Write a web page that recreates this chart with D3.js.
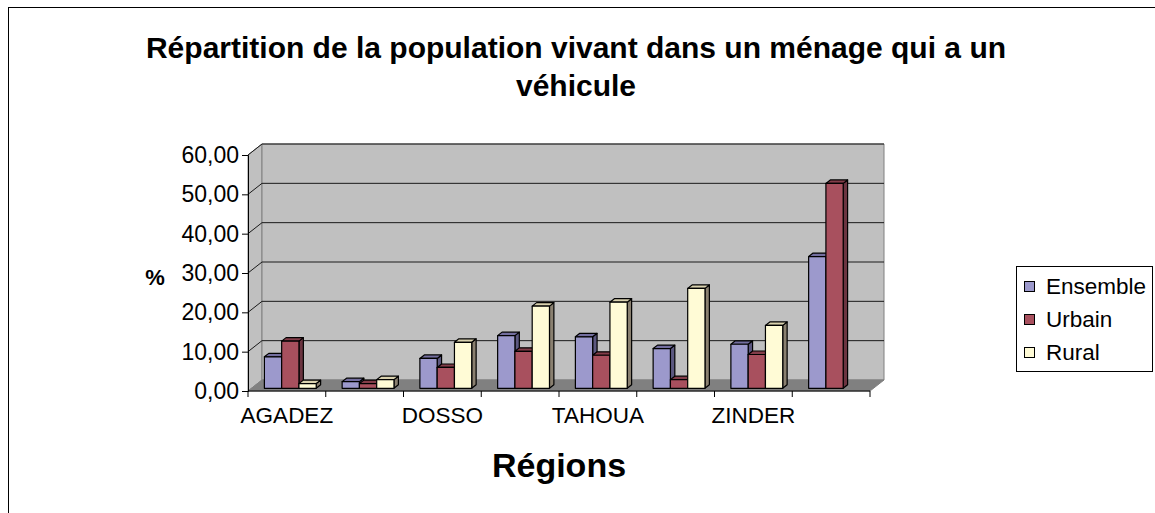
<!DOCTYPE html>
<html><head><meta charset="utf-8">
<script src="https://cdn.jsdelivr.net/npm/d3@7"></script>
<style>body{margin:0;background:#fff}svg{display:block;font-family:"Liberation Sans",Arial,sans-serif}</style>
</head><body><svg id="c" width="1155" height="513"></svg>
<script>
const categories = ["AGADEZ","DIFFA","DOSSO","MARADI","TAHOUA","TILLABERI","ZINDER","NIAMEY"];
const shownLabels = ["AGADEZ","DOSSO","TAHOUA","ZINDER"];
const seriesNames = ["Ensemble","Urbain","Rural"];
const ensemble = [8.0, 1.7, 7.6, 13.4, 13.1, 10.1, 11.2, 33.5];
const urbain   = [12.0, 1.2, 5.3, 9.4, 8.4, 2.2, 8.6, 52.1];
const rural    = [1.2, 2.2, 11.7, 20.9, 21.9, 25.4, 16.0, null];
const yTicks = [0,10,20,30,40,50,60];
const titleLines = ["Répartition de la population vivant dans un ménage qui a un","véhicule"];

const values = [ensemble, urbain, rural];
const colors = {
  Ensemble:{front:"#9c99cc", top:"#736e9f", side:"#5c5880"},
  Urbain:{front:"#a8505e", top:"#833d49", side:"#6b3440"},
  Rural:{front:"#fffbd6", top:"#d9d1ae", side:"#8a8070"}
};

const svg = d3.select("#c");
svg.append("rect").attr("x",8.5).attr("y",7.5).attr("width",1170).attr("height",530)
  .attr("fill","#fff").attr("stroke","#000").attr("stroke-width",1);

const L=248, R=870, depth=[14,-11];
const x0 = d3.scaleBand().domain(categories).range([L,R]).padding(0);
const x1 = d3.scaleBand().domain(seriesNames).range([0,x0.bandwidth()]).paddingInner(0).paddingOuter(0.75);
const y = d3.scaleLinear().domain([0,60]).range([391,155]);
const P = (x,yy,z)=>[x+z*depth[0], yy+z*depth[1]];
const poly = pts => pts.map(p=>p.join(",")).join(" ");

const y0=y(0), y60=y(60);
svg.append("polygon").attr("points",poly([P(L,y60,0),P(L,y60,1),P(L,y0,1),P(L,y0,0)]))
  .attr("fill","#c0c0c0").attr("stroke","#808080");
svg.append("polygon").attr("points",poly([P(L,y60,1),P(R,y60,1),P(R,y0,1),P(L,y0,1)]))
  .attr("fill","#c0c0c0").attr("stroke","#808080");
svg.append("polygon").attr("points",poly([P(L,y0,0),P(R,y0,0),P(R,y0,1),P(L,y0,1)]))
  .attr("fill","#808080").attr("stroke","#808080");
yTicks.filter(t=>t>0).forEach(t=>{
  const a=P(L,y(t),0), b=P(L,y(t),1), c=P(R,y(t),1);
  svg.append("polyline").attr("points",poly([a,b,c])).attr("fill","none")
    .attr("stroke","#1a1a1a").attr("stroke-width",1);
});

const bz0=0.245, bz1=0.56;
categories.forEach((cat,i)=>{
  seriesNames.forEach((s,j)=>{
    const v=values[j][i];
    if(v==null) return;
    const xa=x0(cat)+x1(s), xb=xa+x1.bandwidth();
    const yt=y(v), yb=y(0);
    const c=colors[s];
    const g=svg.append("g").attr("stroke","#000").attr("stroke-width",1.2).attr("stroke-linejoin","round");
    g.append("polygon").attr("points",poly([P(xb,yt,bz0),P(xb,yt,bz1),P(xb,yb,bz1),P(xb,yb,bz0)])).attr("fill",c.side);
    g.append("polygon").attr("points",poly([P(xa,yt,bz0),P(xa,yt,bz1),P(xb,yt,bz1),P(xb,yt,bz0)])).attr("fill",c.top);
    g.append("polygon").attr("points",poly([P(xa,yt,bz0),P(xb,yt,bz0),P(xb,yb,bz0),P(xa,yb,bz0)])).attr("fill",c.front);
  });
});

const yAxis = d3.axisLeft(y).tickValues(yTicks).tickSize(6).tickPadding(3)
  .tickFormat(d=>d3.format(".2f")(d).replace(".",","));
const ga = svg.append("g").attr("transform",`translate(${L},0)`).call(yAxis);
ga.select(".domain").attr("stroke","#000");
ga.selectAll(".tick line").attr("stroke","#000");
ga.selectAll("text").attr("font-size",23).attr("fill","#000").attr("font-family","Liberation Sans, Arial");

svg.append("line").attr("x1",L).attr("x2",R).attr("y1",y0).attr("y2",y0).attr("stroke","#000");
const bounds = categories.map(c=>x0(c)).concat([R]);
svg.selectAll(".xt").data(bounds).join("line").attr("x1",d=>d).attr("x2",d=>d)
  .attr("y1",y0).attr("y2",y0+6).attr("stroke","#000");
svg.selectAll(".xl").data(categories.filter(c=>shownLabels.includes(c))).join("text")
  .attr("x",d=>x0(d)+x0.bandwidth()/2).attr("y",423).attr("text-anchor","middle")
  .attr("font-size",22.5).text(d=>d);

svg.selectAll(".ti").data(titleLines).join("text")
  .attr("x",576).attr("y",(d,i)=>58+i*38).attr("text-anchor","middle")
  .attr("font-size",30).attr("font-weight","bold").text(d=>d);
svg.append("text").attr("x",559).attr("y",477).attr("text-anchor","middle")
  .attr("font-size",34).attr("font-weight","bold").text("Régions");
svg.append("text").attr("x",155).attr("y",285).attr("text-anchor","middle")
  .attr("font-size",22).attr("font-weight","bold").text("%");

const lg = svg.append("g");
lg.append("rect").attr("x",1016.5).attr("y",266.5).attr("width",136).attr("height",105)
  .attr("fill","#fff").attr("stroke","#000");
seriesNames.forEach((s,i)=>{
  lg.append("rect").attr("x",1024.5).attr("y",281.5+i*33).attr("width",10).attr("height",10)
    .attr("fill",colors[s].front).attr("stroke","#000");
  lg.append("text").attr("x",1046).attr("y",294+i*33).attr("font-size",22.5).text(s);
});
</script></body></html>
